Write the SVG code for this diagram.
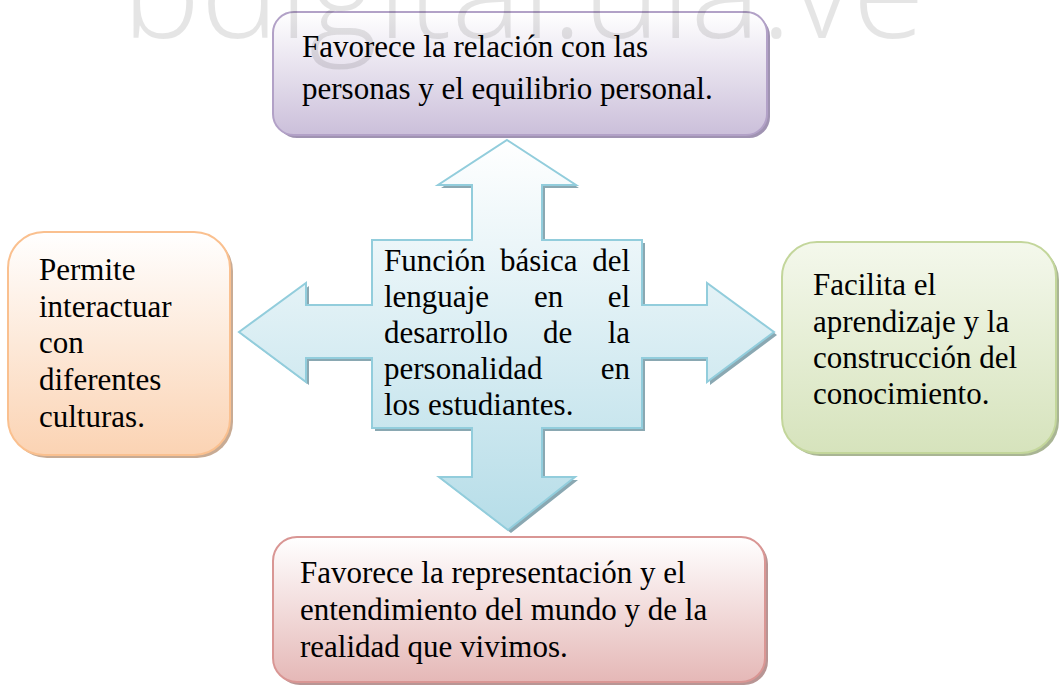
<svg xmlns="http://www.w3.org/2000/svg" width="1061" height="687" viewBox="0 0 1061 687">
  <defs>
    <linearGradient id="gPurple" x1="0" y1="0" x2="0" y2="1">
      <stop offset="0" stop-color="#ffffff"/>
      <stop offset="1" stop-color="#cbbfda"/>
    </linearGradient>
    <linearGradient id="gOrange" x1="0" y1="0" x2="0" y2="1">
      <stop offset="0" stop-color="#ffffff"/>
      <stop offset="1" stop-color="#fbd3b3"/>
    </linearGradient>
    <linearGradient id="gGreen" x1="0" y1="0" x2="0" y2="1">
      <stop offset="0" stop-color="#f4f8ec"/>
      <stop offset="1" stop-color="#d6e3bc"/>
    </linearGradient>
    <linearGradient id="gRed" x1="0" y1="0" x2="0" y2="1">
      <stop offset="0" stop-color="#ffffff"/>
      <stop offset="1" stop-color="#e5b8b7"/>
    </linearGradient>
    <linearGradient id="gBlue" x1="0" y1="140" x2="0" y2="530" gradientUnits="userSpaceOnUse">
      <stop offset="0" stop-color="#ffffff"/>
      <stop offset="1" stop-color="#b6dde8"/>
    </linearGradient>
  </defs>
  <style>
    .t { font-family: 'Liberation Serif', serif; font-size: 31px; fill: #000; }
    .box { stroke-width: 2; }
    .wm { font-family: 'Open Sans', 'Liberation Sans', sans-serif; font-weight: 300; font-size: 132px; fill: #000; fill-opacity: 0.1; }
  </style>

  <g id="connectors">
    <polygon points="510,143 579,188 545,188 545,243 645,243 645,308 710,308 710,286 777,335 710,385 710,361 645,361 645,431 545,431 545,480 578,480 511,533 442,480 475,480 475,431 375,431 375,361 309,361 309,385 242,335 309,286 309,308 375,308 375,243 475,243 475,188 441,188" fill="#8aa8b2"/>
    <polygon points="507,140 576,185 542,185 542,240 642,240 642,305 707,305 707,283 774,332 707,382 707,358 642,358 642,428 542,428 542,477 575,477 508,530 439,477 472,477 472,428 372,428 372,358 306,358 306,382 239,332 306,283 306,305 372,305 372,240 472,240 472,185 438,185" fill="url(#gBlue)" stroke="#92cddc" stroke-width="2" stroke-linejoin="miter"/>
  </g>

  <g id="center">
    <text class="t" font-family="Liberation Serif, serif" y="271"><tspan x="384">Función</tspan><tspan x="500">básica</tspan><tspan x="630" text-anchor="end">del</tspan></text>
    <text class="t" font-family="Liberation Serif, serif" y="307"><tspan x="384">lenguaje</tspan><tspan x="534">en</tspan><tspan x="630" text-anchor="end">el</tspan></text>
    <text class="t" font-family="Liberation Serif, serif" y="343"><tspan x="384">desarrollo</tspan><tspan x="543">de</tspan><tspan x="630" text-anchor="end">la</tspan></text>
    <text class="t" font-family="Liberation Serif, serif" y="379"><tspan x="384">personalidad</tspan><tspan x="630" text-anchor="end">en</tspan></text>
    <text class="t" font-family="Liberation Serif, serif" x="384" y="415">los estudiantes.</text>
  </g>

  <g id="top">
    <rect x="276" y="15" width="494" height="123" rx="21" fill="#a093b2"/>
    <rect class="box" x="273" y="12" width="494" height="123" rx="21" fill="url(#gPurple)" stroke="#b2a1c7"/>
    <text class="t" x="302" y="57">Favorece la relación con las</text>
    <text class="t" x="302" y="99">personas y el equilibrio personal.</text>
  </g>

  <g id="left">
    <rect x="11" y="235" width="222" height="223" rx="36" fill="#c8ab94"/>
    <rect class="box" x="8" y="232" width="222" height="223" rx="36" fill="url(#gOrange)" stroke="#fac08f"/>
    <text class="t" x="39" y="280">Permite</text>
    <text class="t" x="39" y="317">interactuar</text>
    <text class="t" x="39" y="353">con</text>
    <text class="t" x="39" y="390">diferentes</text>
    <text class="t" x="39" y="427">culturas.</text>
  </g>

  <g id="right">
    <rect x="785" y="245" width="274" height="211" rx="35" fill="#a9b594"/>
    <rect class="box" x="782" y="242" width="274" height="211" rx="35" fill="url(#gGreen)" stroke="#c3d69b"/>
    <text class="t" x="813" y="295">Facilita el</text>
    <text class="t" x="813" y="332">aprendizaje y la</text>
    <text class="t" x="813" y="368">construcción del</text>
    <text class="t" x="813" y="404">conocimiento.</text>
  </g>

  <g id="bottom">
    <rect x="276" y="540" width="492" height="145" rx="24" fill="#b89594"/>
    <rect class="box" x="273" y="537" width="492" height="145" rx="24" fill="url(#gRed)" stroke="#d99694"/>
    <text class="t" x="300" y="583">Favorece la representación y el</text>
    <text class="t" x="300" y="620">entendimiento del mundo y de la</text>
    <text class="t" x="300" y="657">realidad que vivimos.</text>
  </g>

  <text class="wm" x="122" y="38" textLength="803" lengthAdjust="spacingAndGlyphs">bdigital.ula.ve</text>
</svg>
